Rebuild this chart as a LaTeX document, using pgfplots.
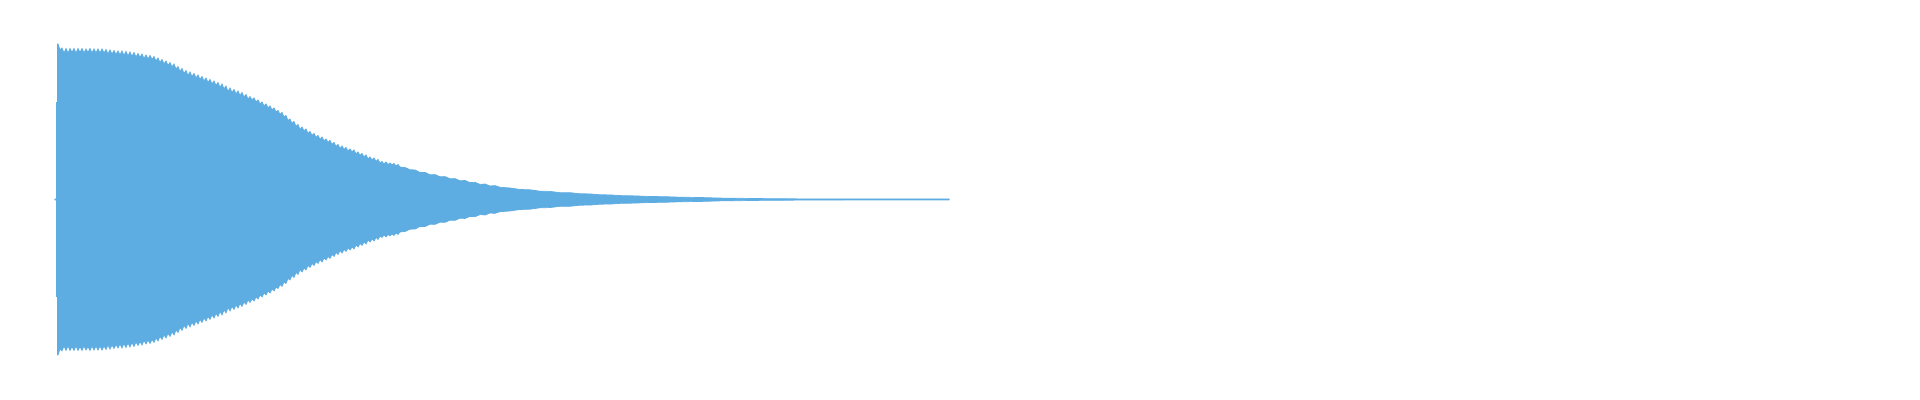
\documentclass[border=0pt]{standalone}
\usepackage{pgfplots}
\usepackage{pgfplotstable}
\pgfplotsset{compat=1.18}
\definecolor{wave}{RGB}{93,173,226}
\pgfplotstableread{
x a
55 0.6
56.5 0.6
56.5 97
57.5 97
57.5 155.5
58 155.5
60 149.5
62 151.5
64 146.5
66 151
68 146.5
70 151
72 147
74 151
76 146.5
78 151
80 147
82 151
84 146.5
86 150.5
88 147
90 151
92 146.5
94 150.5
96 146.5
98 150.5
100 146.5
102 150.5
104 146.5
106 150
108 145.5
110 149.5
112 145.5
114 149
116 145
118 148.5
120 144.5
122 148.5
124 144
126 148
128 143.5
130 147.5
132 143
134 147
136 142.5
138 146
140 142
142 145.5
144 141
146 144.5
148 140.5
150 144
152 140
154 143
156 138.5
158 141.5
160 137
162 140
164 135.5
166 138.5
168 134
170 137
172 132.5
174 135.5
176 130.5
178 133
180 128
182 131
184 126
186 129
188 124
190 127.5
192 123
194 126
196 121.5
198 124.5
200 120
202 123
204 118.5
206 121.5
208 117
210 120
212 115.5
214 118.5
216 114
218 117
220 112
222 115.5
224 110.5
226 113.5
228 108
230 111.5
232 107
234 110
236 105.5
238 108.5
240 104
242 107
244 102.5
246 105
248 100.5
250 103
252 99.5
254 101.5
256 97.5
258 99.5
260 95.5
262 97.5
264 93.5
266 95.5
268 91.5
270 93.5
272 89.5
274 91.5
276 87.5
278 89
280 85
282 87
284 82.5
286 84
288 79
290 80.5
292 76
294 78
296 73
298 75
300 70
302 72.5
304 68.5
306 70.5
308 66
310 68
312 64
314 66
316 62
318 64
320 60
322 62.5
324 58.5
326 60.5
328 57
330 59
332 55
334 57
336 53
338 55
340 51
342 53.5
344 50
346 52
348 48.5
350 50.5
352 47.5
354 49.5
356 45.5
358 47.5
360 44
362 46
364 42.5
366 44.5
368 40.5
370 42.5
372 39.5
374 41.5
376 38
378 40
380 36.5
382 38
384 35.5
386 37.5
388 35
390 36.5
392 34.5
394 36
396 33.5
398 35
400 32.5
405 32
410 29.7
415 29.6
420 26.9
425 27.1
430 24.7
435 24.9
440 22.7
445 22.9
450 20.7
455 20.9
460 18.7
465 19
470 16.9
475 17.2
480 15.1
485 15.5
490 13.5
495 13.9
500 12.2
510 11.5
520 10
530 9.7
540 8.3
550 8.1
560 6.8
570 6.8
580 5.7
590 5.6
600 4.7
610 4.6
620 3.9
635 3.6
650 3
665 2.8
680 2.3
700 2
720 1.4
740 1.2
760 0.9
780 0.8
800 0.6
850 0.5
900 0.5
949 0.5
}\wavetable
\begin{document}
\begin{tikzpicture}
\begin{axis}[
  scale only axis,
  width=19.2cm, height=4cm,
  xmin=0, xmax=1920,
  ymin=-200.5, ymax=199.5,
  hide axis,
  clip=false,
]
\path (rel axis cs:0,0) rectangle (rel axis cs:1,1);
\addplot[fill=wave, draw=wave, line width=0.2pt] table[x=x, y=a] {\wavetable} \closedcycle;
\addplot[fill=wave, draw=wave, line width=0.2pt] table[x=x, y expr=-\thisrow{a}] {\wavetable} \closedcycle;
\end{axis}
\end{tikzpicture}
\end{document}
